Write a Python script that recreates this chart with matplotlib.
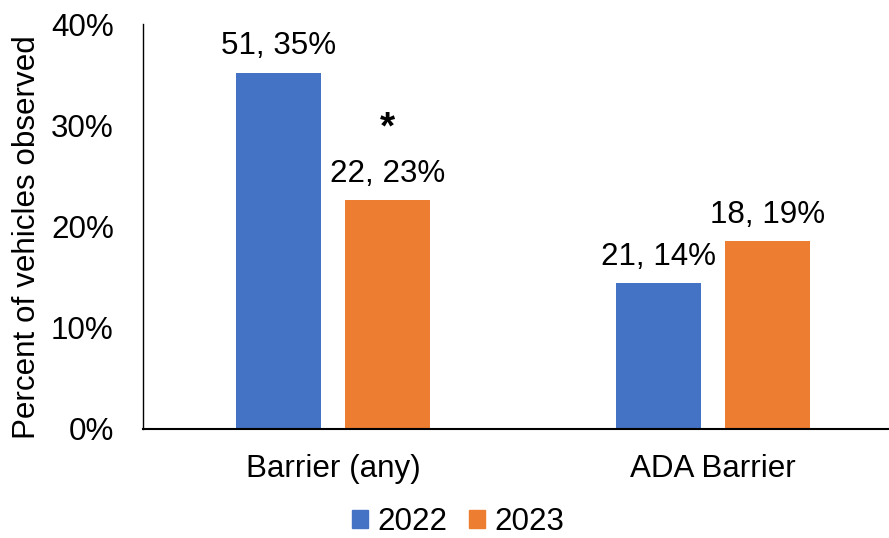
import matplotlib
matplotlib.use("Agg")
import matplotlib.pyplot as plt
from matplotlib.patches import Patch
import numpy as np

plt.rcParams['font.family'] = ['Liberation Sans', 'DejaVu Sans']

categories = ["Barrier (any)", "ADA Barrier"]
years = ["2022", "2023"]
counts_2022 = [51, 21]
counts_2023 = [22, 18]
pct_2022 = [35.2, 14.4]
pct_2023 = [22.6, 18.6]
significant_2023 = [True, False]
y_ticks = [0, 10, 20, 30, 40]

blue = "#4472C4"
orange = "#ED7D31"
FS = 22.6

fig = plt.figure(figsize=(8.89, 5.38), dpi=100)
W, H = 889, 538
ax = fig.add_axes([143 / W, 1 - 429 / H, 760 / W, (429 - 24) / H])

x = np.arange(len(categories))
width = 0.224
offset = 0.143

ax.bar(x - offset, pct_2022, width, color=blue)
ax.bar(x + offset, pct_2023, width, color=orange)

for xi, n, p in zip(x - offset, counts_2022, pct_2022):
    ax.annotate(f"{n}, {p:.0f}%", (xi, p), xytext=(0, 8), textcoords="offset points",
                ha="center", va="bottom", fontsize=FS)
for xi, n, p, sig in zip(x + offset, counts_2023, pct_2023, significant_2023):
    ax.annotate(f"{n}, {p:.0f}%", (xi, p), xytext=(0, 8), textcoords="offset points",
                ha="center", va="bottom", fontsize=FS)
    if sig:
        ax.annotate("*", (xi, p), xytext=(0, 39), textcoords="offset points",
                    ha="center", va="bottom", fontsize=28, fontweight="bold")

ax.set_xlim(-0.5, 1.5)
ax.set_ylim(0, 40)
ax.set_yticks(y_ticks)
ax.set_yticklabels([f"{t}%" for t in y_ticks], fontsize=FS)
ax.set_xticks(x)
ax.set_xticklabels(categories, fontsize=FS)
ax.tick_params(axis="both", length=0)
ax.tick_params(axis="y", pad=21)
ax.tick_params(axis="x", pad=18)

for s in ["top", "right"]:
    ax.spines[s].set_visible(False)
ax.spines["left"].set_linewidth(1.0)
ax.spines["bottom"].set_linewidth(1.5)

ax.set_ylabel("Percent of vehicles observed", fontsize=FS)
ax.yaxis.set_label_coords(-0.133, 0.474)

handles = [Patch(color=blue), Patch(color=orange)]
fig.legend(handles, years, loc="center", bbox_to_anchor=(458 / W, 1 - 522 / H),
           ncol=2, frameon=False, fontsize=FS, handlelength=0.5, handleheight=0.5,
           handletextpad=0.3, columnspacing=0.7, borderpad=0.2)

fig.savefig("out.png", dpi=100)
